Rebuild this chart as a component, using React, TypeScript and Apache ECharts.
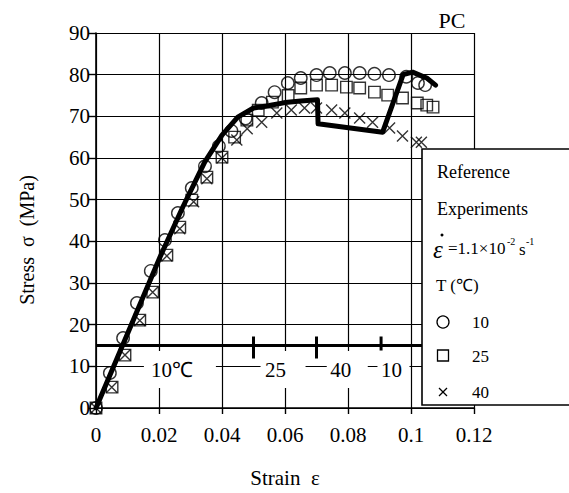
import React, { useEffect, useRef } from "react";
import * as echarts from "echarts";

// ---- data ----
const xTicks = [0, 0.02, 0.04, 0.06, 0.08, 0.1, 0.12];
const yTicks = [0, 10, 20, 30, 40, 50, 60, 70, 80, 90];

const circleStrain = [0, 0.0044, 0.0086, 0.013, 0.0174, 0.0219, 0.026, 0.0304, 0.0346, 0.039, 0.043, 0.0475, 0.0526, 0.0567, 0.0609, 0.065, 0.07, 0.0742, 0.079, 0.0837, 0.0884, 0.093, 0.0985, 0.1022, 0.1045];
const circleStress = [0, 8.4, 16.8, 25.2, 32.9, 40.3, 46.8, 52.8, 58, 62.8, 66.5, 69.5, 73.2, 75.8, 78, 79.2, 79.9, 80.4, 80.4, 80.4, 80.2, 79.9, 79.5, 78, 77.5];

const squareStrain = [0, 0.0051, 0.0092, 0.0139, 0.018, 0.0225, 0.0266, 0.0304, 0.0352, 0.04, 0.044, 0.0479, 0.0515, 0.056, 0.061, 0.065, 0.07, 0.0748, 0.0795, 0.0837, 0.0884, 0.0926, 0.0973, 0.102, 0.105, 0.107];
const squareStress = [0, 5, 12.7, 21.1, 27.8, 36.7, 43.4, 49.9, 55.4, 60.2, 65, 69.1, 71.5, 73.4, 75, 76.8, 77.5, 77.5, 77, 76.8, 75.8, 75.1, 74.4, 73.2, 72.7, 72.2];

const crossStrain = [0, 0.005, 0.0092, 0.0139, 0.018, 0.0225, 0.0266, 0.031, 0.0352, 0.04, 0.0447, 0.048, 0.0526, 0.0574, 0.062, 0.0662, 0.07, 0.0748, 0.079, 0.0837, 0.0878, 0.0932, 0.0973, 0.1017, 0.1033];
const crossStress = [0, 5, 12.7, 21, 27.8, 36.5, 43, 49.5, 55, 60, 64.3, 67, 68.6, 70.8, 71.5, 72, 72, 71.5, 70.8, 69.6, 68.6, 67.2, 65.3, 63.8, 63.8];

const refStrain = [0, 0.01, 0.0203, 0.0276, 0.0345, 0.04, 0.045, 0.05, 0.055, 0.06, 0.065, 0.0703, 0.0705, 0.091, 0.0975, 0.1005, 0.105, 0.1078];
const refStress = [0, 17.8, 36.2, 48.3, 59, 65.5, 69.8, 72, 72.6, 73.3, 73.7, 74, 68.2, 66.2, 80, 80.6, 79.2, 77.5];

const tempBarY = 15;
const tempBarRange = [0, 0.105];
const tempBreaks = [0.05, 0.07, 0.0905];
const tempLabels = ["10℃", "25", "40", "10"];
const tempLabelX = [0.0241, 0.057, 0.0777, 0.0938];
const tempLabelY = 9.1;

const legendTitles = ["Reference", "Experiments"];
const legendTemps = ["10", "25", "40"];

const FONT = "'Liberation Serif', 'Times New Roman', serif";

function pair(xs: number[], ys: number[]) {
  return xs.map((x, i) => [x, ys[i]]);
}

const crossPath = "path://M0,0L10,10M0,10L10,0";

export default function App() {
  const ref = useRef<HTMLDivElement>(null);
  useEffect(() => {
    const chart = echarts.init(ref.current!, null, { renderer: "svg" });
    const markerStyle = { color: "rgba(0,0,0,0)", borderColor: "#000", borderWidth: 1.4 };
    chart.setOption({
      animation: false,
      backgroundColor: "#fff",
      grid: { left: 96, right: 95, top: 33, bottom: 85 },
      xAxis: {
        type: "value",
        min: 0,
        max: 0.12,
        interval: 0.02,
        axisLine: { lineStyle: { color: "#000", width: 1.6 } },
        axisTick: { show: true, length: 6, lineStyle: { color: "#000", width: 1.4 } },
        axisLabel: {
          color: "#000",
          fontFamily: FONT,
          fontSize: 21,
          margin: 16,
          formatter: (v: number) => String(parseFloat(v.toFixed(2))),
        },
        splitLine: { show: true, lineStyle: { color: "#000", width: 1.2 } },
        name: "Strain  ε",
        nameLocation: "middle",
        nameGap: 59,
        nameTextStyle: { color: "#000", fontFamily: FONT, fontSize: 21 },
      },
      yAxis: {
        type: "value",
        min: 0,
        max: 90,
        interval: 10,
        axisLine: { show: true, lineStyle: { color: "#000", width: 1.6 } },
        axisTick: { show: true, length: 8, lineStyle: { color: "#000", width: 1.4 } },
        axisLabel: { color: "#000", fontFamily: FONT, fontSize: 21, margin: 6 },
        splitLine: { show: true, lineStyle: { color: "#000", width: 1.2 } },
      },
      series: [
        {
          type: "line",
          data: [[tempBarRange[0], tempBarY], [tempBarRange[1], tempBarY]],
          showSymbol: false,
          symbol: "none",
          lineStyle: { color: "#000", width: 3 },
          z: 3,
          silent: true,
        },
        {
          type: "scatter",
          name: "10",
          data: pair(circleStrain, circleStress),
          symbol: "circle",
          symbolSize: 12.5,
          itemStyle: markerStyle,
          z: 4,
        },
        {
          type: "scatter",
          name: "25",
          data: pair(squareStrain, squareStress),
          symbol: "rect",
          symbolSize: 11.5,
          itemStyle: markerStyle,
          z: 4,
        },
        {
          type: "scatter",
          name: "40",
          data: pair(crossStrain, crossStress),
          symbol: crossPath,
          symbolSize: 11,
          itemStyle: markerStyle,
          z: 4,
        },
        {
          type: "line",
          name: "Reference",
          data: pair(refStrain, refStress),
          showSymbol: false,
          symbol: "none",
          lineStyle: { color: "#000", width: 5, join: "round", cap: "round" },
          z: 5,
        },
      ],
    });

    const px = (x: number, y: number) => chart.convertToPixel({ gridIndex: 0 }, [x, y]) as number[];
    const graphics: any[] = [];

    // temperature region labels with white backing
    const boxOffsets = [[-28, 44], [-15, 30], [-14, 27], [-14, 18]];
    tempLabels.forEach((t, i) => {
      const [cx, cy] = px(tempLabelX[i], tempLabelY);
      const [l, r] = boxOffsets[i];
      graphics.push({
        type: "rect",
        z: 6,
        shape: { x: cx + l, y: cy - 19, width: r - l, height: 37 },
        style: { fill: "#fff" },
      });
      graphics.push({
        type: "text",
        z: 7,
        x: cx,
        y: cy,
        style: {
          text: t,
          font: `21px ${FONT}`,
          fill: "#000",
          textAlign: "center",
          textVerticalAlign: "middle",
          align: "center",
          verticalAlign: "middle",
        },
      });
    });
    // temperature bar ticks
    tempBreaks.forEach((b, i) => {
      const [x, y] = px(b, tempBarY);
      graphics.push({
        type: "line",
        z: 8,
        shape: { x1: x, y1: y - 9, x2: x, y2: y + (i < 2 ? 13 : 5) },
        style: { stroke: "#000", lineWidth: 3 },
      });
    });

    // y axis title
    graphics.push({
      type: "text",
      z: 8,
      x: 27,
      y: 240,
      rotation: Math.PI / 2,
      style: {
        text: "Stress  σ  (MPa)",
        font: `20px ${FONT}`,
        fill: "#000",
        textAlign: "center",
        textVerticalAlign: "middle",
        align: "center",
        verticalAlign: "middle",
      },
    });
    // PC label
    graphics.push({
      type: "text",
      z: 8,
      x: 452,
      y: 20,
      style: {
        text: "PC",
        font: `22px ${FONT}`,
        fill: "#000",
        textAlign: "center",
        textVerticalAlign: "middle",
        align: "center",
        verticalAlign: "middle",
      },
    });

    // legend box
    const lx = 422;
    const ly = 149;
    graphics.push({
      type: "rect",
      z: 20,
      shape: { x: lx, y: ly, width: 170, height: 256 },
      style: { fill: "#fff", stroke: "#000", lineWidth: 1.6 },
    });
    const txt = (text: string, x: number, y: number, size: number, extra: any = {}) => ({
      type: "text",
      z: 21,
      x,
      y,
      style: {
        text,
        font: `${extra.italic ? "italic " : ""}${size}px ${FONT}`,
        fill: "#000",
        textAlign: "left",
        textVerticalAlign: "middle",
        align: "left",
        verticalAlign: "middle",
      },
    });
    graphics.push(txt(legendTitles[0], 437, 172, 18));
    graphics.push(txt(legendTitles[1], 437, 209, 18));
    // strain rate line
    graphics.push(txt("ε", 433, 249, 25, { italic: true }));
    graphics.push({ type: "circle", z: 21, shape: { cx: 442, cy: 235, r: 1.5 }, style: { fill: "#000" } });
    graphics.push(txt("=1.1×10", 448, 248, 17));
    graphics.push(txt("-2", 507, 241, 10));
    graphics.push(txt("s", 519, 249, 17));
    graphics.push(txt("-1", 526, 241, 10));
    graphics.push(txt("T (℃)", 436, 285, 17));
    // symbols
    graphics.push({ type: "circle", z: 21, shape: { cx: 443, cy: 322, r: 6 }, style: { fill: "none", stroke: "#000", lineWidth: 1.3 } });
    graphics.push({ type: "rect", z: 21, shape: { x: 437.5, y: 350, width: 11, height: 11 }, style: { fill: "none", stroke: "#000", lineWidth: 1.3 } });
    graphics.push({ type: "line", z: 21, shape: { x1: 439, y1: 388, x2: 447, y2: 396 }, style: { stroke: "#000", lineWidth: 1.3 } });
    graphics.push({ type: "line", z: 21, shape: { x1: 439, y1: 396, x2: 447, y2: 388 }, style: { stroke: "#000", lineWidth: 1.3 } });
    graphics.push(txt(legendTemps[0], 472, 322, 17));
    graphics.push(txt(legendTemps[1], 472, 356, 17));
    graphics.push(txt(legendTemps[2], 472, 392, 17));

    chart.setOption({ graphic: graphics });
    return () => chart.dispose();
  }, []);
  return <div ref={ref} style={{ position: "absolute", left: 0, top: 0, width: 569, height: 493 }} />;
}
